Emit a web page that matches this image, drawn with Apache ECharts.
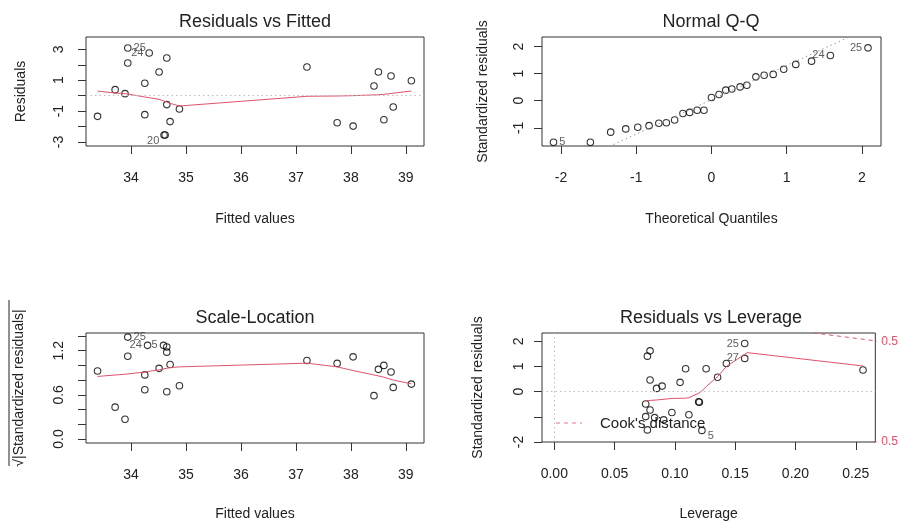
<!DOCTYPE html>
<html><head><meta charset="utf-8">
<script src="https://cdn.jsdelivr.net/npm/echarts@6/dist/echarts.min.js"></script>
<style>html,body{margin:0;padding:0;background:#fff}#c{width:901px;height:523px}</style>
</head><body><div id="c"></div>
<script>
// ---------- Residuals vs Fitted ----------
const rvfFitted = [33.39, 33.71, 33.89, 33.94, 33.94, 34.33, 34.25, 34.25, 34.51, 34.65, 34.65, 34.71, 34.88, 34.60, 34.62, 37.20, 37.75, 38.04, 38.42, 38.50, 38.73, 38.60, 38.77, 39.10];
const rvfResid  = [-1.34, 0.39, 0.13, 3.09, 2.12, 2.76, 0.80, -1.23, 1.53, 2.44, -0.58, -1.68, -0.86, -2.55, -2.55, 1.86, -1.75, -1.97, 0.63, 1.53, 1.27, -1.56, -0.73, 0.97];
const rvfIds    = ['', '', '', '25', '', '24', '', '', '', '', '', '', '', '', '20', '', '', '', '', '', '', '', '', ''];
const rvfSmoothX = [33.39, 33.71, 33.89, 33.94, 34.25, 34.33, 34.51, 34.60, 34.65, 34.71, 34.88, 37.20, 37.75, 38.04, 38.42, 38.50, 38.60, 38.73, 38.77, 39.10];
const rvfSmoothY = [0.30, 0.17, 0.13, 0.11, -0.09, -0.13, -0.24, -0.35, -0.41, -0.50, -0.67, -0.04, -0.02, 0.00, 0.05, 0.06, 0.09, 0.14, 0.16, 0.30];
const rvfXTicks = [34, 35, 36, 37, 38, 39];
const rvfYTicks = [-3, -2, -1, 0, 1, 2, 3];
const rvfYLabels = [-3, -1, 1, 3];

// ---------- Normal Q-Q ----------
const qqTheo = [-2.10, -1.61, -1.34, -1.14, -0.98, -0.83, -0.70, -0.60, -0.49, -0.38, -0.29, -0.19, -0.10, 0.00, 0.10, 0.19, 0.27, 0.38, 0.47, 0.59, 0.70, 0.82, 0.96, 1.12, 1.33, 1.58, 2.08];
const qqStd  = [-1.53, -1.53, -1.16, -1.04, -0.98, -0.92, -0.83, -0.81, -0.71, -0.47, -0.43, -0.35, -0.35, 0.12, 0.23, 0.39, 0.43, 0.51, 0.57, 0.88, 0.94, 0.97, 1.16, 1.34, 1.46, 1.67, 1.95];
const qqIds  = ['5', '', '', '', '', '', '', '', '', '', '', '', '', '', '', '', '', '', '', '', '', '', '', '', '', '24', '25'];
const qqLineX = [-2.5, 2.5];
const qqLineY = [-3.13, 3.20];
const qqXTicks = [-2, -1, 0, 1, 2];
const qqYTicks = [-1, 0, 1, 2];

// ---------- Scale-Location ----------
const slFitted = [33.39, 33.71, 33.89, 33.94, 33.94, 34.30, 34.25, 34.25, 34.51, 34.59, 34.65, 34.65, 34.71, 34.65, 34.88, 37.20, 37.75, 38.04, 38.42, 38.50, 38.60, 38.73, 38.77, 39.10];
const slSqrt   = [0.924, 0.433, 0.268, 1.384, 1.125, 1.272, 0.871, 0.670, 0.960, 1.272, 1.250, 1.180, 1.013, 0.643, 0.723, 1.067, 1.027, 1.116, 0.589, 0.946, 1.000, 0.911, 0.701, 0.746];
const slIds    = ['', '', '', '25', '', '24', '', '', '', '5', '', '', '', '', '', '', '', '', '', '', '', '', '', ''];
const slSmoothX = [33.39, 33.89, 34.25, 34.51, 34.71, 34.88, 37.20, 37.75, 38.04, 38.42, 38.60, 38.77, 39.10];
const slSmoothY = [0.85, 0.88, 0.91, 0.94, 0.97, 0.98, 1.03, 0.98, 0.93, 0.87, 0.84, 0.80, 0.75];
const slXTicks = [34, 35, 36, 37, 38, 39];
const slYTicks = [0, 0.2, 0.4, 0.6, 0.8, 1.0, 1.2, 1.4];
const slYLabels = [0, 0.6, 1.2];

// ---------- Residuals vs Leverage ----------
const levX = [0.0772, 0.0794, 0.0794, 0.0848, 0.0894, 0.0758, 0.0794, 0.0758, 0.0832, 0.0907, 0.0772, 0.0975, 0.1116, 0.1043, 0.1089, 0.1197, 0.1203, 0.1259, 0.1354, 0.1427, 0.1579, 0.1579, 0.2560, 0.1224];
const levY = [1.41, 1.62, 0.46, 0.13, 0.22, -0.49, -0.73, -0.99, -1.03, -1.12, -1.52, -0.83, -0.92, 0.37, 0.91, -0.40, -0.42, 0.91, 0.57, 1.12, 1.91, 1.32, 0.86, -1.54];
const levIds = ['', '', '', '', '', '', '', '', '', '', '', '', '', '', '', '', '', '', '', '', '25', '27', '', '5'];
const levSmoothX = [0.0758, 0.0850, 0.0975, 0.1089, 0.1116, 0.1197, 0.1224, 0.1259, 0.1354, 0.1427, 0.1600, 0.2560];
const levSmoothY = [-0.36, -0.33, -0.27, -0.26, -0.24, -0.06, 0.03, 0.20, 0.60, 1.00, 1.55, 1.02];
const cookUpperX = [0.195, 0.21, 0.225, 0.24, 0.255, 0.27];
const cookUpperY = [2.50, 2.38, 2.27, 2.18, 2.09, 1.99];
const cookLowerX = [0.225, 0.24, 0.255, 0.27];
const cookLowerY = [-2.27, -2.18, -2.09, -1.99];
const cookLevelLabels = ['0.5', '0.5'];
const cookLevelAt = [-1.99, 1.99];
const cookLegendText = "Cook's distance";
const levXTicks = [0, 0.05, 0.10, 0.15, 0.20, 0.25];
const levYTicks = [-2, -1, 0, 1, 2];
const levYLabels = [-2, 0, 1, 2];

// ---------- chart ----------
const FONT = '"Liberation Sans", Arial, sans-serif';
const TXT = '#222';
const RED = '#DF536B';
const GRAY = '#BEBEBE';
const zip = (a, b) => a.map((v, i) => [v, b[i]]);

function pts(xs, ys, ids, nudge) {
  const lx = xs.filter((v, i) => ids[i]);
  const mid = (Math.min(...lx) + Math.max(...lx)) / 2;
  return xs.map((x, i) => {
    const d = { value: [x, ys[i]] };
    if (ids[i]) {
      d.label = { show: true, formatter: ids[i], position: x > mid ? 'left' : 'right',
        distance: 2, offset: [0, (nudge && nudge[ids[i]]) || 0] };
    }
    return d;
  });
}

const grids = [
  { left: 86, top: 37, width: 338, height: 109 },
  { left: 542, top: 37, width: 339, height: 109 },
  { left: 86, top: 333, width: 338, height: 110 },
  { left: 542, top: 333, width: 338, height: 109 }
].map(g => Object.assign(g, { show: true, borderColor: '#333', borderWidth: 1, backgroundColor: 'transparent', containLabel: false }));

function xAx(gi, min, max, ticks, labels, fmt, name, gap) {
  return { type: 'value', gridIndex: gi, min, max, position: 'bottom',
    axisLine: { show: false, onZero: false }, splitLine: { show: false },
    axisTick: { show: true, customValues: ticks, length: 8, lineStyle: { color: '#333' } },
    axisLabel: { show: true, customValues: labels, formatter: fmt, margin: 25, color: TXT, fontSize: 14, fontFamily: FONT },
    name, nameLocation: 'middle', nameGap: gap,
    nameTextStyle: { color: TXT, fontSize: 14, fontFamily: FONT } };
}
function yAx(gi, min, max, ticks, labels, fmt, name, margin, gap) {
  return { type: 'value', gridIndex: gi, min, max, position: 'left',
    axisLine: { show: false, onZero: false }, splitLine: { show: false },
    axisTick: { show: true, customValues: ticks, length: 8, lineStyle: { color: '#333' } },
    axisLabel: { show: true, customValues: labels, formatter: fmt, rotate: 90, margin, color: TXT, fontSize: 14, fontFamily: FONT },
    name, nameLocation: 'middle', nameGap: gap,
    nameTextStyle: { color: TXT, fontSize: 14, fontFamily: FONT } };
}
const f0 = v => String(v);
const f1 = v => Number(v).toFixed(1);
const f2 = v => Number(v).toFixed(2);

const xAxes = [
  xAx(0, 33.18, 39.33, rvfXTicks, rvfXTicks, f0, 'Fitted values', 66),
  xAx(1, -2.253, 2.253, qqXTicks, qqXTicks, f0, 'Theoretical Quantiles', 66),
  xAx(2, 33.18, 39.33, slXTicks, slXTicks, f0, 'Fitted values', 64),
  xAx(3, -0.0102, 0.2662, levXTicks, levXTicks, f2, 'Leverage', 65)
];
const yAxes = [
  yAx(0, -3.26, 3.80, rvfYTicks, rvfYLabels, f0, 'Residuals', 20, 58),
  yAx(1, -1.67, 2.35, qqYTicks, qqYTicks, f0, 'Standardized residuals', 16, 52),
  yAx(2, -0.054, 1.44, slYTicks, slYLabels, f1, '√|Standardized residuals|', 20, 60),
  yAx(3, -2.0, 2.33, levYTicks, levYLabels, f0, 'Standardized residuals', 16, 57),
  { type: 'value', gridIndex: 3, min: -2.0, max: 2.33, position: 'right',
    axisLine: { show: false, onZero: false }, splitLine: { show: false }, axisTick: { show: false },
    axisLabel: { show: true, customValues: cookLevelAt, formatter: () => cookLevelLabels[0],
      margin: 6, color: RED, fontSize: 12, fontFamily: FONT } }
];

const labelStyle = { color: '#333', fontSize: 11, fontFamily: FONT };
function scatter(gi, data) {
  return { type: 'scatter', xAxisIndex: gi, yAxisIndex: gi, data, symbol: 'circle', symbolSize: 6.5,
    itemStyle: { color: 'rgba(0,0,0,0)', borderColor: '#000', borderWidth: 1.1 },
    label: Object.assign({ show: false }, labelStyle), silent: true, z: 3 };
}
function line(gi, xs, ys, style) {
  return { type: 'line', xAxisIndex: gi, yAxisIndex: gi, data: zip(xs, ys), symbol: 'none', showSymbol: false,
    lineStyle: style, clip: true, silent: true, z: 4 };
}
const zeroLine = (arr) => ({ silent: true, symbol: 'none', label: { show: false },
  lineStyle: { color: GRAY, type: [1.5, 3], width: 1 }, data: arr });

const s0 = scatter(0, pts(rvfFitted, rvfResid, rvfIds, { '20': 6 }));
s0.markLine = zeroLine([{ yAxis: 0 }]);
const s3 = scatter(3, pts(levX, levY, levIds, { '5': 6 }));
s3.markLine = zeroLine([{ yAxis: 0 }, { xAxis: 0 }]);

const series = [
  s0,
  line(0, rvfSmoothX, rvfSmoothY, { color: RED, width: 1 }),
  line(1, qqLineX, qqLineY, { color: '#999', width: 1, type: [1.5, 3] }),
  scatter(1, pts(qqTheo, qqStd, qqIds)),
  scatter(2, pts(slFitted, slSqrt, slIds)),
  line(2, slSmoothX, slSmoothY, { color: RED, width: 1 }),
  s3,
  line(3, levSmoothX, levSmoothY, { color: RED, width: 1 }),
  line(3, cookUpperX, cookUpperY, { color: RED, width: 1, type: [4, 4] }),
  line(3, cookLowerX, cookLowerY, { color: RED, width: 1, type: [4, 4] })
];

const titleFont = '18px ' + FONT;
const titles = [
  ['Residuals vs Fitted', 255, 22], ['Normal Q-Q', 711, 22],
  ['Scale-Location', 255, 318], ['Residuals vs Leverage', 711, 318]
].map(([t, x, y]) => ({ type: 'text', x, y, silent: true,
  style: { text: t, font: titleFont, fill: TXT, align: 'center', verticalAlign: 'middle', textAlign: 'center', textVerticalAlign: 'middle' } }));

const legendParts = [
  { type: 'line', silent: true, shape: { x1: 556, y1: 423, x2: 582, y2: 423 },
    style: { stroke: RED, lineWidth: 1, lineDash: [4, 4], opacity: 0.8 } },
  { type: 'text', x: 600, y: 424, silent: true,
    style: { text: cookLegendText, font: '15px ' + FONT, fill: TXT, align: 'left', verticalAlign: 'middle', textAlign: 'left', textVerticalAlign: 'middle' } }
];

const chart = echarts.init(document.getElementById('c'));
chart.setOption({
  animation: false,
  backgroundColor: '#fff',
  textStyle: { fontFamily: FONT },
  grid: grids,
  xAxis: xAxes,
  yAxis: yAxes,
  graphic: titles.concat(legendParts, [
    { type: 'line', silent: true, shape: { x1: 9, y1: 300, x2: 9, y2: 466 }, style: { stroke: TXT, lineWidth: 1 } }
  ]),
  series
});
</script></body></html>
